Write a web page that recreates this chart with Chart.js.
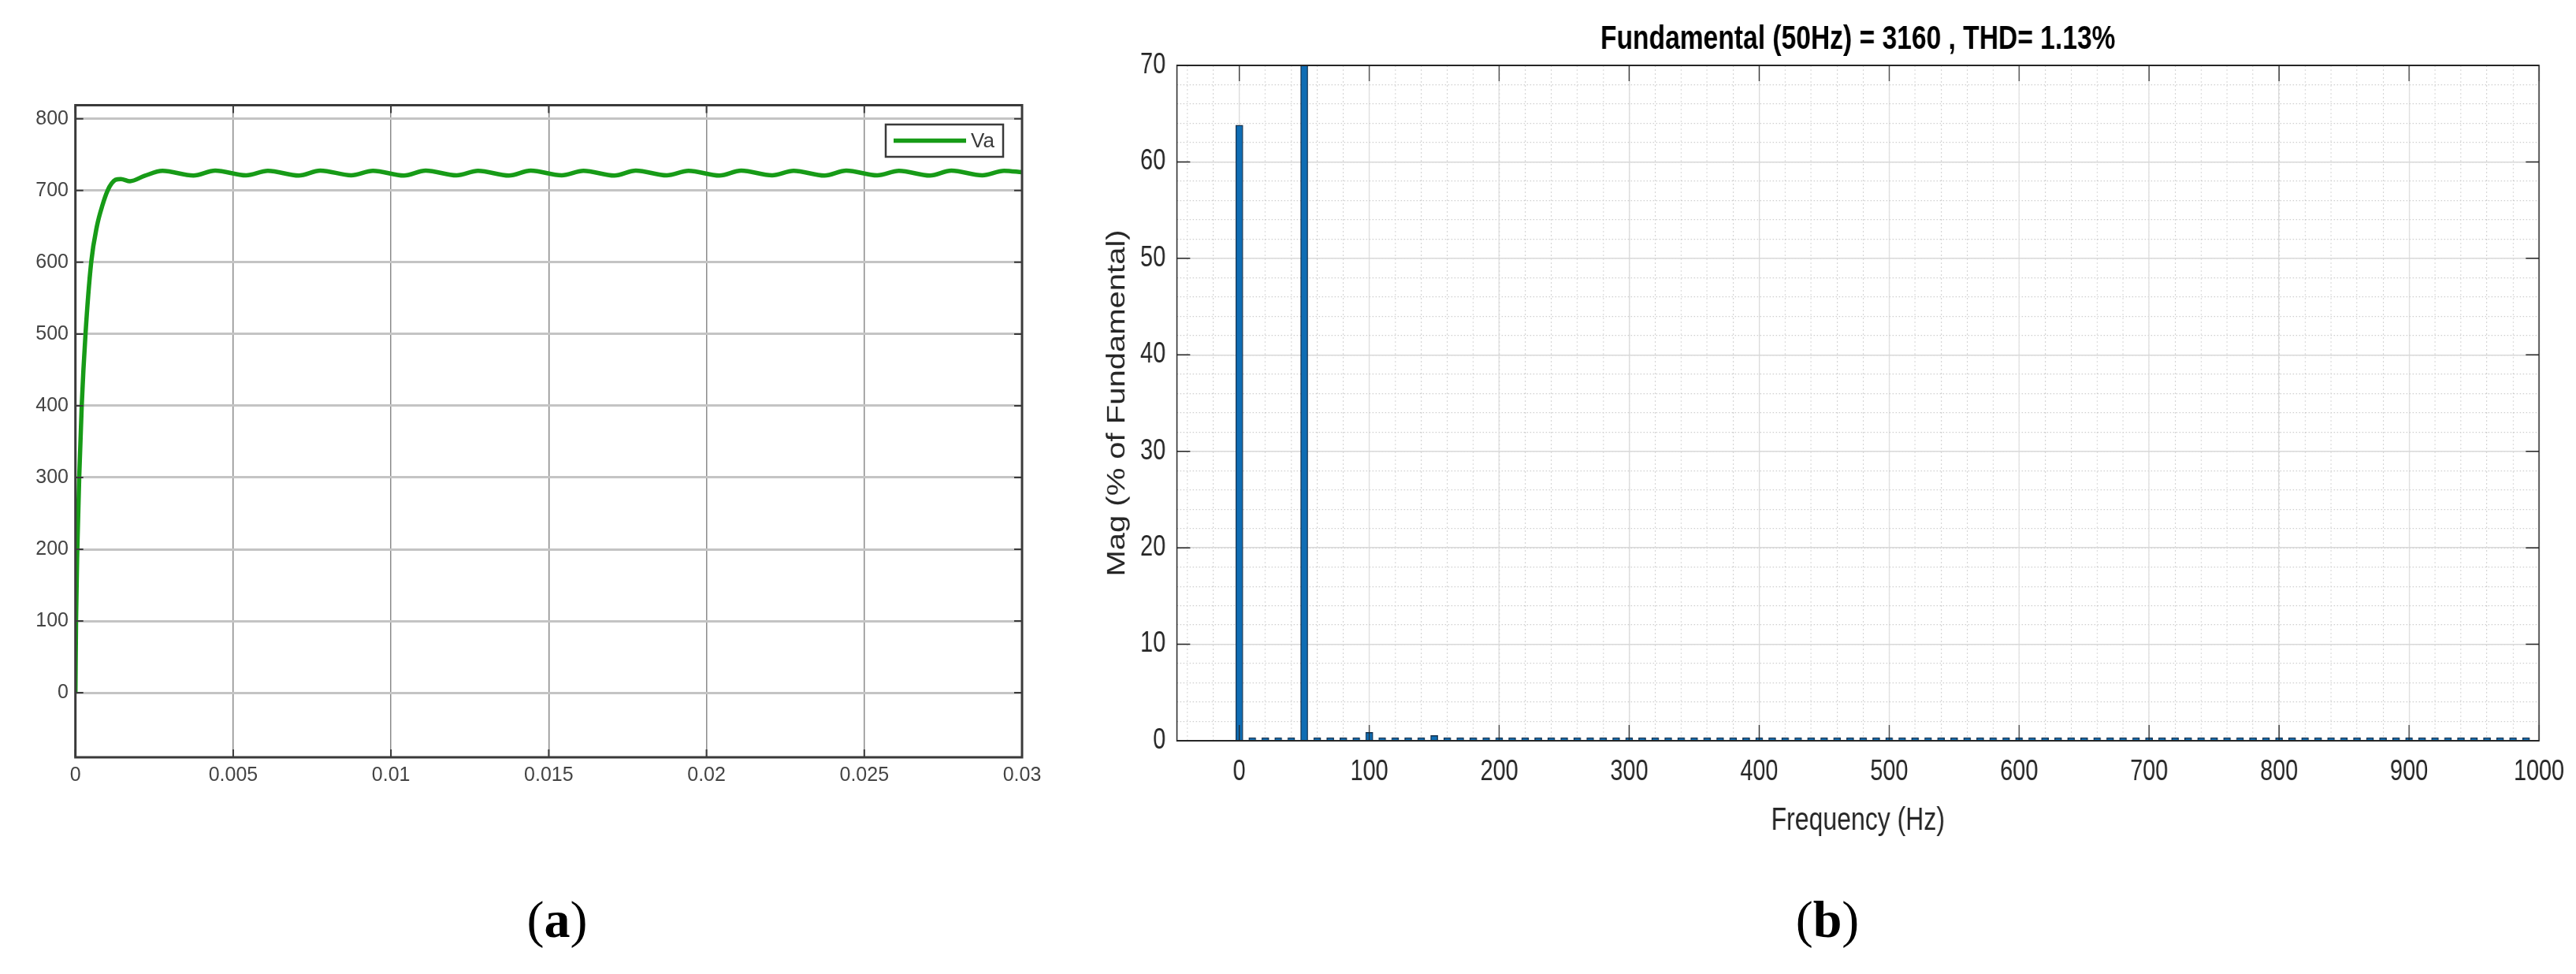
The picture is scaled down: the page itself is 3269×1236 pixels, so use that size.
<!DOCTYPE html>
<html>
<head>
<meta charset="utf-8">
<script src="https://cdn.jsdelivr.net/npm/chart.js@4.4.1/dist/chart.umd.min.js"></script>
<style>
  html, body { margin: 0; padding: 0; background: #fff; }
  body { width: 3269px; height: 1236px; position: relative; overflow: hidden; }
  #chartVa { position: absolute; left: 0; top: 0; }
  /* the FFT panel of the reference is squeezed horizontally */
  #chartFft { position: absolute; left: 1340px; top: 0; transform: scaleX(0.8); transform-origin: 0 0; }
  .cap { position: absolute; top: 1125px; width: 200px; text-align: center;
         font-family: "Liberation Serif", "Times New Roman", serif; font-size: 66px; line-height: 84px; color: #000; }
</style>
</head>
<body>
<canvas id="chartVa" width="1340" height="1100" style="width:1340px;height:1100px"></canvas>
<canvas id="chartFft" width="2411" height="1100" style="width:2411px;height:1100px"></canvas>
<div class="cap" style="left:607px">(<b>a</b>)</div>
<div class="cap" style="left:2219px">(<b>b</b>)</div>
<script>
// (a) tensão Va no tempo
const timeS = [
    0, 0.00002, 0.00006, 0.00012, 0.00020, 0.00032, 0.00050, 0.00068, 0.00086, 0.00102, 0.00115, 0.00127, 0.00144, 0.00173, 0.00219,
    0.00276, 0.00374, 0.00443, 0.00541, 0.00610, 0.00708, 0.00776, 0.00874, 0.00943, 0.01041,
    0.01110, 0.01208, 0.01276, 0.01374, 0.01443, 0.01541, 0.01610, 0.01708, 0.01776, 0.01874,
    0.01943, 0.02041, 0.02110, 0.02208, 0.02276, 0.02374, 0.02443, 0.02541, 0.02610, 0.02708,
    0.02776, 0.02874, 0.02943, 0.03
];
const vaVolts = [
    0, 100, 200, 300, 400, 500, 600, 650, 680, 700, 710, 715, 716, 713, 720.5,
    727.5, 721, 727.8, 721.2, 727.6, 721, 727.9, 721.3, 727.6, 721,
    727.8, 721.2, 727.6, 721, 727.8, 721.3, 727.6, 721, 727.8, 721.2,
    727.6, 721, 727.8, 721.3, 727.6, 721, 727.8, 721.2, 727.6, 721,
    727.8, 721.3, 727.6, 725.5
];
const timeTicks = [0, 0.005, 0.01, 0.015, 0.02, 0.025, 0.03];
const timeTickLabels = ["0", "0.005", "0.01", "0.015", "0.02", "0.025", "0.03"];
const voltTicks = [0, 100, 200, 300, 400, 500, 600, 700, 800];
const voltTickLabels = ["0", "100", "200", "300", "400", "500", "600", "700", "800"];

// (b) espectro FFT
const fftTitle = "Fundamental (50Hz) = 3160 , THD= 1.13%";
const freqHz = [
    0, 10, 20, 30, 40, 50, 60, 70, 80, 90,
    100, 110, 120, 130, 140, 150, 160, 170, 180, 190,
    200, 210, 220, 230, 240, 250, 260, 270, 280, 290,
    300, 310, 320, 330, 340, 350, 360, 370, 380, 390,
    400, 410, 420, 430, 440, 450, 460, 470, 480, 490,
    500, 510, 520, 530, 540, 550, 560, 570, 580, 590,
    600, 610, 620, 630, 640, 650, 660, 670, 680, 690,
    700, 710, 720, 730, 740, 750, 760, 770, 780, 790,
    800, 810, 820, 830, 840, 850, 860, 870, 880, 890,
    900, 910, 920, 930, 940, 950, 960, 970, 980, 990
];
const magPct = [
    63.8, 0, 0, 0, 0, 100, 0, 0, 0, 0,
    0.87, 0, 0, 0, 0, 0.55, 0, 0, 0, 0,
    0.2, 0, 0, 0, 0, 0.25, 0, 0, 0, 0,
    0.05, 0, 0, 0, 0, 0.06, 0, 0, 0, 0,
    0, 0, 0, 0, 0, 0, 0, 0, 0, 0,
    0, 0, 0, 0, 0, 0, 0, 0, 0, 0,
    0, 0, 0, 0, 0, 0, 0, 0, 0, 0,
    0, 0, 0, 0, 0, 0, 0, 0, 0, 0,
    0, 0, 0, 0, 0, 0, 0, 0, 0, 0,
    0, 0, 0, 0, 0, 0, 0, 0, 0, 0
];
const freqTicks = [0, 100, 200, 300, 400, 500, 600, 700, 800, 900, 1000];
const freqTickLabels = ["0", "100", "200", "300", "400", "500", "600", "700", "800", "900", "1000"];
const magTicks = [0, 10, 20, 30, 40, 50, 60, 70];
const magTickLabels = ["0", "10", "20", "30", "40", "50", "60", "70"];

const sans = "'Liberation Sans', Arial, sans-serif";

// caixa em volta da área do gráfico + marcas de tick para dentro (estilo MATLAB)
const framePlugin = {
    id: "frame",
    afterDraw(chart, args, o) {
        const { ctx, chartArea: a, scales } = chart;
        ctx.save();
        ctx.strokeStyle = o.color;
        ctx.lineWidth = o.tickWidth;
        ctx.beginPath();
        scales.x.ticks.forEach(t => {
            const px = scales.x.getPixelForValue(t.value);
            ctx.moveTo(px, a.bottom); ctx.lineTo(px, a.bottom - o.xTick);
            ctx.moveTo(px, a.top); ctx.lineTo(px, a.top + o.xTick);
        });
        scales.y.ticks.forEach(t => {
            const py = scales.y.getPixelForValue(t.value);
            ctx.moveTo(a.left, py); ctx.lineTo(a.left + o.yTick, py);
            ctx.moveTo(a.right, py); ctx.lineTo(a.right - o.yTick, py);
        });
        ctx.stroke();
        ctx.lineWidth = o.width;
        ctx.strokeRect(a.left, a.top, a.right - a.left, a.bottom - a.top);
        ctx.restore();
    }
};

// legenda com borda dentro do gráfico (a)
const legendBox = {
    id: "legendBox",
    afterDraw(chart, args, o) {
        const { ctx, chartArea: a } = chart;
        const ds = chart.data.datasets[0];
        const x = a.right - o.right - o.w, y = a.top + o.top, cy = y + o.h / 2;
        ctx.save();
        ctx.fillStyle = "#fff";
        ctx.fillRect(x, y, o.w, o.h);
        ctx.strokeStyle = o.border;
        ctx.lineWidth = 2.5;
        ctx.strokeRect(x, y, o.w, o.h);
        ctx.strokeStyle = ds.borderColor;
        ctx.lineWidth = ds.borderWidth;
        ctx.beginPath();
        ctx.moveTo(x + 10, cy);
        ctx.lineTo(x + 102, cy);
        ctx.stroke();
        ctx.fillStyle = o.color;
        ctx.font = o.font;
        ctx.textBaseline = "middle";
        ctx.fillText(ds.label, x + 108, cy + 1);
        ctx.restore();
    }
};

new Chart(document.getElementById("chartVa"), {
    type: "line",
    data: {
        datasets: [{
            label: "Va",
            data: timeS.map((t, i) => ({ x: t, y: vaVolts[i] })),
            borderColor: "#179b17",
            borderWidth: 5.5,
            pointRadius: 0,
            cubicInterpolationMode: "monotone",
            fill: false
        }]
    },
    options: {
        responsive: false,
        animation: false,
        layout: { padding: { top: 133.5, right: 43, left: 0, bottom: 0 } },
        plugins: {
            legend: { display: false },
            tooltip: { enabled: false },
            frame: { color: "#3a3a3a", width: 3, tickWidth: 2, xTick: 10, yTick: 10 },
            legendBox: { right: 24, top: 24.5, w: 149, h: 41, border: "#3a3a3a", color: "#3a3a3a", font: "26px " + sans }
        },
        scales: {
            x: {
                type: "linear", min: 0, max: 0.03,
                afterBuildTicks: s => { s.ticks = timeTicks.map(v => ({ value: v })); },
                afterFit: s => { s.height = 139; },
                ticks: { callback: (v, i) => timeTickLabels[i], padding: 8.6, maxRotation: 0, autoSkip: false,
                         font: { family: sans, size: 25 }, color: "#444" },
                grid: { color: "#8c8c8c", lineWidth: 1.5, drawTicks: false },
                border: { display: false }
            },
            y: {
                type: "linear", min: -90, max: 819,
                afterBuildTicks: s => { s.ticks = voltTicks.map(v => ({ value: v })); },
                afterFit: s => { s.width = 95.7; },
                ticks: { callback: (v, i) => voltTickLabels[i], padding: 8.7,
                         font: { family: sans, size: 25 }, color: "#444" },
                grid: { color: "#c4c4c4", lineWidth: 3, drawTicks: false },
                border: { display: false }
            }
        }
    },
    plugins: [framePlugin, legendBox]
});

new Chart(document.getElementById("chartFft"), {
    type: "bar",
    data: {
        datasets: [{
            label: "Mag",
            data: freqHz.map((f, i) => ({ x: f, y: magPct[i] })),
            backgroundColor: "#0f6db4",
            borderColor: "#17324d",
            borderWidth: 1.5,
            barThickness: 11.25,
            minBarLength: 4,
            clip: { left: 0, top: 0, right: 0, bottom: false }
        }]
    },
    options: {
        responsive: false,
        animation: false,
        layout: { padding: { top: 0, right: 48.75, left: 0, bottom: 0 } },
        plugins: {
            legend: { display: false },
            tooltip: { enabled: false },
            title: { display: true, text: fftTitle, fullSize: false, color: "#000",
                     font: { family: sans, size: 42, weight: "bold" }, padding: { top: 24.8, bottom: 7.8 } },
            frame: { color: "#262626", width: 2, tickWidth: 1.5, xTick: 20, yTick: 21 }
        },
        scales: {
            xMinor: {
                type: "linear", position: "bottom", min: -48, max: 1000, offset: false,
                ticks: { display: false, stepSize: 20, includeBounds: false },
                grid: { color: "#cfcfcf", lineWidth: 1.2, drawTicks: false, offset: false, z: -2 },
                border: { display: false, dash: [2, 3] },
                afterFit: s => { s.height = 0; }
            },
            yMinor: {
                type: "linear", position: "left", min: 0, max: 70,
                ticks: { display: false, stepSize: 2, includeBounds: false },
                grid: { color: "#cfcfcf", lineWidth: 1.2, drawTicks: false, z: -2 },
                border: { display: false, dash: [2, 3] },
                afterFit: s => { s.width = 0; }
            },
            x: {
                type: "linear", position: "bottom", min: -48, max: 1000, offset: false,
                afterBuildTicks: s => { s.ticks = freqTicks.map(v => ({ value: v })); },
                afterFit: s => { s.height = 160; },
                ticks: { callback: (v, i) => freqTickLabels[i], padding: 18.4, maxRotation: 0, autoSkip: false,
                         font: { family: sans, size: 36 }, color: "#262626" },
                grid: { color: "#d9d9d9", lineWidth: 1.5, drawTicks: false, offset: false },
                border: { display: false },
                title: { display: true, text: "Frequency (Hz)", color: "#262626",
                         font: { family: sans, size: 40 }, padding: { top: 0, bottom: 34 } }
            },
            y: {
                type: "linear", position: "left", min: 0, max: 70,
                afterBuildTicks: s => { s.ticks = magTicks.map(v => ({ value: v })); },
                afterFit: s => { s.width = 191.9; },
                ticks: { callback: (v, i) => magTickLabels[i], padding: 18,
                         font: { family: sans, size: 36 }, color: "#262626" },
                grid: { color: "#d9d9d9", lineWidth: 1.5, drawTicks: false },
                border: { display: false },
                title: { display: true, text: "Mag (% of Fundamental)", color: "#262626",
                         font: { family: sans, size: 40 }, padding: { top: 74, bottom: 0 } }
            }
        }
    },
    plugins: [framePlugin]
});
</script>
</body>
</html>
